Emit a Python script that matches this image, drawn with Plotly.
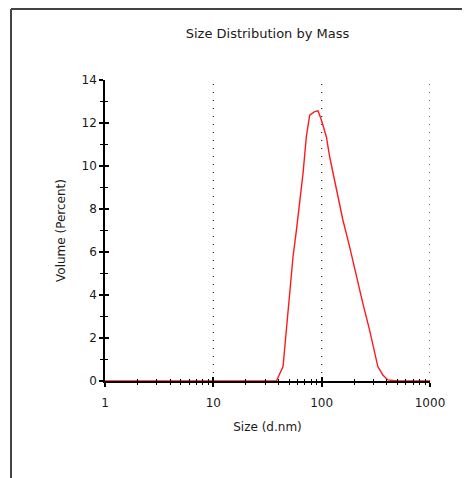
import plotly.graph_objects as go

# Data
size_nm = [1, 2, 5, 10, 20, 30, 38.2, 44, 47.3, 50.7, 54.4, 58.5, 62.7, 67.3, 72.2, 77.5,
           86.2, 92.5, 99.4, 110.5, 118.5, 136.5, 157, 181, 209, 240, 277, 308, 330,
           367, 408, 500, 700, 1000]
volume_pct = [0, 0, 0, 0, 0, 0, 0, 0.67, 2.37, 3.92, 5.78, 7.02, 8.26, 9.66, 11.36, 12.37,
              12.53, 12.57, 12.14, 11.36, 10.43, 8.88, 7.49, 6.25, 4.85, 3.61, 2.37, 1.29, 0.67,
              0.28, 0.05, 0, 0, 0]
x_ticks = [1, 10, 100, 1000]
x_minor = [m * d for d in (1, 10, 100) for m in range(2, 10)]
y_ticks = [0, 2, 4, 6, 8, 10, 12, 14]
grid_x = [10, 100, 1000]

W, H = 462, 470
L, R, T, B = 97, 40, 72, 97
pw, ph = W - L - R, H - T - B

def px_x(p):
    return (p - L) / pw

def px_y(p):
    return (H - B - p) / ph

font = "DejaVu Sans, Verdana, sans-serif"
tcol = "#1a1a1a"

fig = go.Figure()
fig.add_trace(go.Scatter(x=size_nm, y=volume_pct, mode="lines",
                         line=dict(color="#ff1a1a", width=1.4), cliponaxis=False,
                         showlegend=False, hoverinfo="skip"))
# invisible trace for overlay axes (crossing ticks)
fig.add_trace(go.Scatter(x=[1, 1000], y=[0, 14], xaxis="x2", yaxis="y2", mode="none",
                         showlegend=False, hoverinfo="skip"))

shapes = [
    dict(type="line", xref="x", yref="y", x0=g, x1=g, y0=0, y1=14, layer="below",
         line=dict(color="#222", width=1.2, dash="1px,7px"))
    for g in grid_x
]
shapes += [
    dict(type="line", xref="paper", yref="paper", x0=px_x(3), x1=px_x(W + 5),
         y0=px_y(1), y1=px_y(1), line=dict(color="#444", width=2)),
    dict(type="line", xref="paper", yref="paper", x0=px_x(3), x1=px_x(3),
         y0=px_y(1), y1=px_y(H + 5), line=dict(color="#444", width=2)),
]

fig.update_layout(
    width=W, height=H,
    margin=dict(l=L, r=R, t=T, b=B, pad=0),
    paper_bgcolor="white", plot_bgcolor="white",
    title=dict(text="Size Distribution by Mass", xref="container", x=259.5 / W, xanchor="center",
               yref="container", y=1 - 25 / H, yanchor="middle",
               font=dict(family=font, size=13, color=tcol)),
    xaxis=dict(type="log", range=[0, 3], tickvals=x_ticks, ticktext=[str(v) for v in x_ticks],
               showline=True, linecolor="black", linewidth=1.5, layer="below traces",
               ticks="outside", ticklen=4, tickwidth=1.5, tickcolor="black",
               minor=dict(tickvals=x_minor, ticks="outside", ticklen=2, tickwidth=1,
                          tickcolor="black", showgrid=False),
               showgrid=False, zeroline=False, ticklabelstandoff=6,
               tickfont=dict(family=font, size=12, color=tcol),
               title=dict(text="Size (d.nm)", font=dict(family=font, size=12, color=tcol), standoff=13)),
    yaxis=dict(range=[0, 14], tickvals=y_ticks, showline=True, linecolor="black", linewidth=1.5,
               layer="below traces",
               ticks="outside", ticklen=4, tickwidth=1.5, tickcolor="black",
               minor=dict(ticks="outside", ticklen=3, tickwidth=1, tickcolor="black", dtick=1, showgrid=False),
               showgrid=False, zeroline=False, tickfont=dict(family=font, size=12, color=tcol),
               title=dict(text="Volume (Percent)", font=dict(family=font, size=12, color=tcol), standoff=13)),
    xaxis2=dict(type="log", range=[0, 3], overlaying="x", anchor="y2", tickvals=x_ticks,
                showticklabels=False, ticks="inside", ticklen=4, tickwidth=1.5, tickcolor="black",
                minor=dict(tickvals=x_minor, ticks="inside", ticklen=2, tickwidth=1,
                           tickcolor="black", showgrid=False),
                showgrid=False, zeroline=False, showline=False),
    yaxis2=dict(range=[0, 14], overlaying="y", anchor="x2", tickvals=y_ticks,
                showticklabels=False, ticks="inside", ticklen=4, tickwidth=1.5, tickcolor="black",
                minor=dict(ticks="inside", ticklen=3, tickwidth=1, tickcolor="black", dtick=1, showgrid=False),
                showgrid=False, zeroline=False, showline=False),
    shapes=shapes,
)

fig.write_html("out.html")
